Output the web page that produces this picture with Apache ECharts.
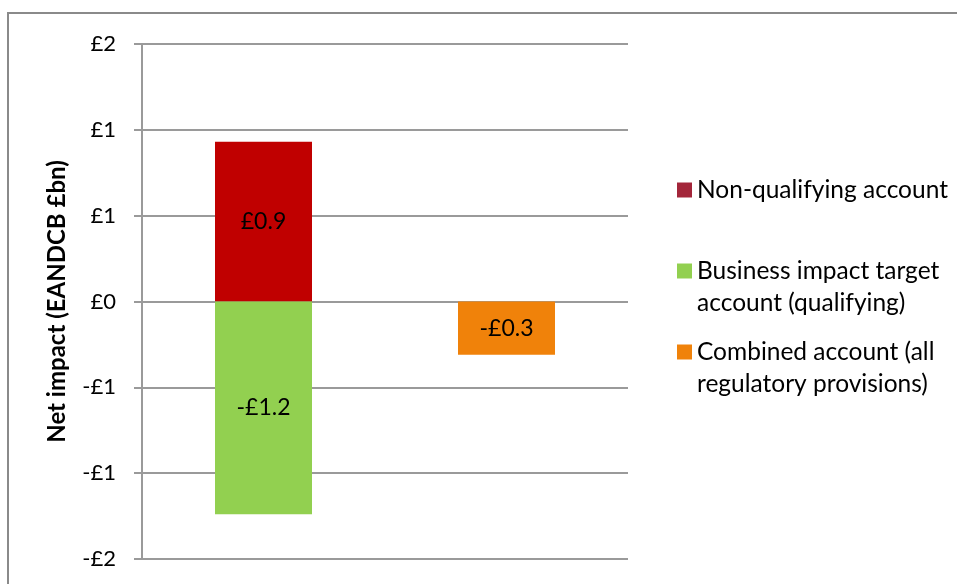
<!DOCTYPE html>
<html>
<head>
<meta charset="utf-8">
<script src="https://cdn.jsdelivr.net/npm/echarts@6/dist/echarts.min.js"></script>
<style>
  html, body { margin: 0; padding: 0; background: #fff; }
  #chart { width: 957px; height: 584px; }
</style>
</head>
<body>
<div id="chart"></div>
<script>
// Net impact by account, £bn (EANDCB)
const categories = ['Qualifying / non-qualifying', 'Combined'];
const seriesNames = [
  'Non-qualifying account',
  'Business impact target account (qualifying)',
  'Combined account (all regulatory provisions)'
];
const nonQualifying = [0.93, null];
const businessImpact = [-1.24, null];
const combined = [null, -0.31];
const yTicks = { min: -1.5, max: 1.5, interval: 0.5 };
// Legend wording split over lines; a leading blank line keeps the swatch beside the first line
const legendLines = {
  'Non-qualifying account': 'Non-qualifying account',
  'Business impact target account (qualifying)': '\nBusiness impact target\naccount (qualifying)',
  'Combined account (all regulatory provisions)': '\nCombined account (all\nregulatory provisions)'
};
const swatchColors = ['#a3263a', '#92d050', '#f0820a'];

const FONT = 'Lato, "Open Sans", sans-serif';
const gridColor = '#9a9a9a';

function money(v) {
  const r = Math.round(Math.abs(v));
  return (v < 0 && r !== 0 ? '-' : '') + '£' + r;
}
function money1(v) {
  return (v < 0 ? '-' : '') + '£' + Math.abs(v).toFixed(1);
}

const chart = echarts.init(document.getElementById('chart'), null, { renderer: 'canvas' });

const labelStyle = {
  show: true,
  position: 'inside',
  color: '#000',
  fontFamily: FONT,
  fontSize: 23,
  formatter: p => money1(p.value)
};

function legendFor(i, top) {
  return {
    data: [{ name: seriesNames[i], itemStyle: { color: swatchColors[i] } }],
    orient: 'vertical',
    left: 677,
    top: top,
    itemWidth: 15,
    itemHeight: 15,
    itemGap: 0,
    padding: 0,
    icon: 'rect',
    selectedMode: false,
    formatter: n => legendLines[n],
    textStyle: {
      fontFamily: FONT,
      fontSize: 24.5,
      color: '#000',
      lineHeight: 32.5
    }
  };
}

chart.setOption({
  animation: false,
  backgroundColor: '#fff',
  graphic: [{
    type: 'rect',
    shape: { x: 8, y: 13, width: 1200, height: 1000 },
    style: { fill: 'none', stroke: '#8a8a8a', lineWidth: 2 },
    silent: true,
    z: -10
  }],
  grid: { left: 142, top: 44, width: 486, height: 515 },
  legend: [
    legendFor(0, 173.75),
    legendFor(1, 222.25),
    legendFor(2, 303.25)
  ],
  xAxis: {
    type: 'category', data: categories,
    axisLine: { show: false }, axisTick: { show: false }, axisLabel: { show: false }
  },
  yAxis: {
    type: 'value',
    min: yTicks.min, max: yTicks.max, interval: yTicks.interval,
    name: 'Net impact (EANDCB £bn)',
    nameLocation: 'middle',
    nameGap: 73,
    nameTextStyle: { fontFamily: FONT, fontSize: 24, fontWeight: 'bold', color: '#000' },
    axisLine: { show: true, lineStyle: { color: gridColor, width: 2 } },
    axisTick: { show: true, length: 8, lineStyle: { color: gridColor, width: 2 } },
    axisLabel: { formatter: money, margin: 26, fontFamily: FONT, fontSize: 22, color: '#000' },
    splitLine: { show: true, lineStyle: { color: gridColor, width: 2 } }
  },
  series: [
    {
      name: seriesNames[0], type: 'bar', stack: 'accounts', barWidth: 97,
      data: nonQualifying, itemStyle: { color: '#c00000' }, label: labelStyle
    },
    {
      name: seriesNames[1], type: 'bar', stack: 'accounts', barWidth: 97,
      data: businessImpact, itemStyle: { color: '#92d050' }, label: labelStyle
    },
    {
      name: seriesNames[2], type: 'bar', stack: 'accounts', barWidth: 97,
      data: combined, itemStyle: { color: '#f0820a' }, label: labelStyle
    }
  ]
});
</script>
</body>
</html>
